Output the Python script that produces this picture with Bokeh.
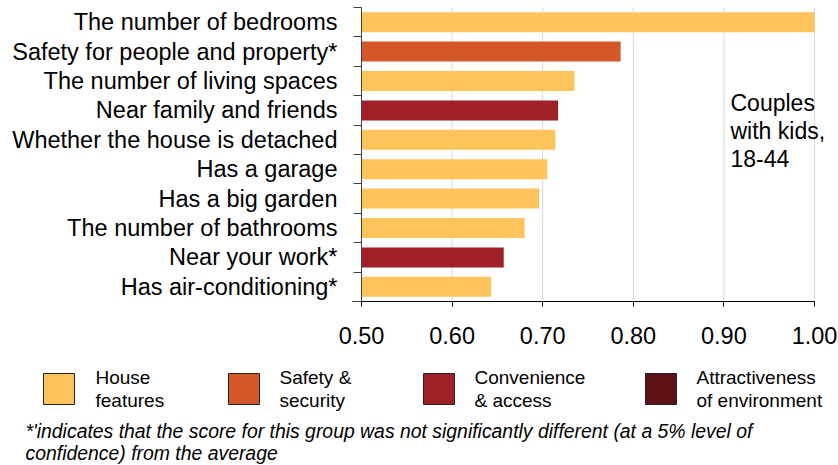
from bokeh.plotting import figure
from bokeh.models import ColumnDataSource, FixedTicker, Range1d, LinearAxis
from bokeh.embed import file_html
from bokeh.resources import INLINE
from bokeh.core.properties import value

# ---- data ----
categories = [
    "The number of bedrooms",
    "Safety for people and property*",
    "The number of living spaces",
    "Near family and friends",
    "Whether the house is detached",
    "Has a garage",
    "Has a big garden",
    "The number of bathrooms",
    "Near your work*",
    "Has air-conditioning*",
]
scores = [1.00, 0.786, 0.735, 0.717, 0.714, 0.705, 0.696, 0.680, 0.657, 0.643]
groups = [
    "House features", "Safety & security", "House features", "Convenience & access",
    "House features", "House features", "House features", "House features",
    "Convenience & access", "House features",
]
legend_groups = ["House features", "Safety & security", "Convenience & access", "Attractiveness of environment"]
legend_labels = [["House", "features"], ["Safety &", "security"], ["Convenience", "& access"], ["Attractiveness", "of environment"]]
group_colors = {
    "House features": "#FEC35B",
    "Safety & security": "#D4572A",
    "Convenience & access": "#9F2127",
    "Attractiveness of environment": "#5F1215",
}
x_ticks = [0.5, 0.6, 0.7, 0.8, 0.9, 1.0]
annotation_lines = ["Couples", "with kids,", "18-44"]
footnote_lines = [
    "*'indicates that the score for this group was not significantly different  (at a 5% level of",
    "confidence) from the average",
]

FONT = "Liberation Sans"
W, H = 838, 465
n = len(categories)
ypos = [n - 1 - i for i in range(n)]
XMIN, XMAX = 0.5, 1.0
YMIN, YMAX = -0.5, n - 0.5

# layout (page pixels) of the plotting area
X0, X1 = 361, 814   # pixel of XMIN, XMAX
Y0, Y1 = 7, 301     # pixel of YMAX (top), YMIN (bottom)


def dx(px):
    return XMIN + (px - X0) / (X1 - X0) * (XMAX - XMIN)


def dy(py):
    return YMAX - (py - Y0) / (Y1 - Y0) * (YMAX - YMIN)


p = figure(width=W, height=H, output_backend="svg", toolbar_location=None,
           x_range=Range1d(dx(0), dx(W)), y_range=Range1d(dy(H), dy(0)),
           x_axis_location=None, y_axis_location=None,
           min_border=0, min_border_left=0, min_border_right=0,
           min_border_top=0, min_border_bottom=0)
p.outline_line_color = None
p.background_fill_color = "white"
p.border_fill_color = "white"
p.grid.grid_line_color = None

# vertical gridlines within the plotting area
p.segment(x0=x_ticks, x1=x_ticks, y0=[YMIN] * len(x_ticks), y1=[YMAX] * len(x_ticks),
          line_color="#D9D9D9", line_width=1)

src = ColumnDataSource(dict(
    y=ypos, right=scores, color=[group_colors[g] for g in groups], cat=categories,
))
p.hbar(y="y", left=XMIN, right="right", height=0.68, fill_color="color", line_color=None, source=src)

# x axis
xa = LinearAxis(fixed_location=YMIN, bounds=(XMIN - 0.01, XMAX))
xa.ticker = FixedTicker(ticks=x_ticks, minor_ticks=[])
xa.major_label_overrides = {t: f"{t:.2f}" for t in x_ticks}
xa.major_label_text_font = FONT
xa.major_label_text_font_size = "23.5px"
xa.major_label_text_color = "black"
xa.major_tick_out = 5
xa.major_tick_in = 0
xa.minor_tick_out = 0
xa.axis_line_color = "black"
xa.major_tick_line_color = "black"
xa.major_label_standoff = 20
p.add_layout(xa, "below")

# y axis
ya = LinearAxis(fixed_location=XMIN, bounds=(YMIN, YMAX))
boundaries = [i + 0.5 for i in range(-1, n)]
ya.ticker = FixedTicker(ticks=ypos, minor_ticks=boundaries)
ya.major_label_overrides = {y: c for y, c in zip(ypos, categories)}
ya.major_label_text_font = FONT
ya.major_label_text_font_size = "23.5px"
ya.major_label_text_color = "black"
ya.major_tick_out = 0
ya.major_tick_in = 0
ya.minor_tick_out = 8
ya.minor_tick_in = 0
ya.minor_tick_line_color = "#404040"
ya.axis_line_color = "#404040"
ya.major_label_standoff = 16
p.add_layout(ya, "left")

# in-plot annotation
p.text(x=[dx(730)] * len(annotation_lines), y=[dy(102 + 28 * k) for k in range(len(annotation_lines))],
       text=annotation_lines, text_font=value(FONT), text_font_size="23px",
       text_color="black", text_baseline="middle")

# legend
sq_left = [43, 228, 423, 645]
txt_left = [95, 279, 474, 696]
p.rect(x=[dx(s + 15.5) for s in sq_left], y=[dy(388.5)] * 4, width=31, height=31,
       width_units="screen", height_units="screen",
       fill_color=[group_colors[g] for g in legend_groups], line_color="#222222", line_width=1)
tx, ty, tt = [], [], []
for xl, lines in zip(txt_left, legend_labels):
    for j, line in enumerate(lines):
        tx.append(dx(xl)); ty.append(dy(377 + 23 * j)); tt.append(line)
p.text(x=tx, y=ty, text=tt, text_font=value(FONT), text_font_size="19px",
       text_color="black", text_baseline="middle")

# footnote
p.text(x=[dx(25)] * 2, y=[dy(430), dy(452)], text=footnote_lines, text_font=value(FONT),
       text_font_size="19.4px", text_font_style="italic", text_color="black", text_baseline="middle")

open("out.html", "w").write(file_html(p, INLINE))
